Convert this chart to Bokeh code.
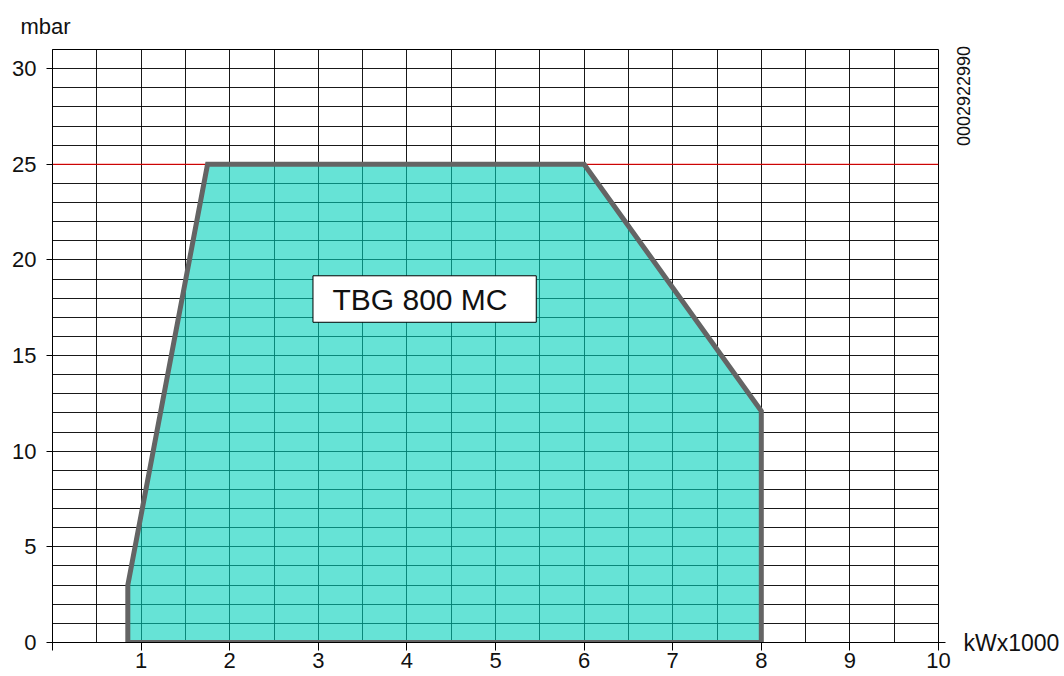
from bokeh.plotting import figure
from bokeh.models import Range1d, FixedTicker, Span, LinearAxis
from bokeh.core.properties import value
from bokeh.embed import file_html
from bokeh.resources import INLINE
import numpy as np

# Data
area_x = [0.85, 0.85, 1.75, 6.0, 8.0, 8.0]
area_y = [0.0, 3.0, 25.0, 25.0, 12.1, 0.0]
limit_pressure = 25
x_ticks = list(range(0, 11))
x_tick_labels = {0: ""}
y_ticks = [0, 5, 10, 15, 20, 25, 30]
model_name = "TBG 800 MC"
drawing_code = "0002922990"
x_unit = "kWx1000"
y_unit = "mbar"

FONT = "Liberation Sans"
TXT = "#111111"

p = figure(width=1064, height=676, x_range=Range1d(0, 10), y_range=Range1d(0, 31),
           output_backend="svg", toolbar_location=None,
           min_border_left=52, min_border_right=126, min_border_top=49, min_border_bottom=34)

p.outline_line_color = "black"
p.outline_line_width = 1

# y unit as title
p.title.text = y_unit
p.title.align = "left"
p.title.offset = -32
p.title.standoff = 22
p.title.text_font = FONT
p.title.text_font_size = "22px"
p.title.text_font_style = "normal"
p.title.text_color = TXT

# grid
p.xgrid.ticker = FixedTicker(ticks=list(np.arange(0, 10.01, 0.5)))
p.ygrid.ticker = FixedTicker(ticks=list(range(0, 32)))
for g in (p.xgrid, p.ygrid):
    g.grid_line_color = "black"
    g.grid_line_width = 1
    g.grid_line_alpha = 0.9

# axes
p.xaxis.ticker = FixedTicker(ticks=x_ticks)
p.xaxis.major_label_overrides = x_tick_labels
p.yaxis.ticker = FixedTicker(ticks=y_ticks)
for ax in (p.xaxis, p.yaxis):
    ax.axis_line_color = "black"
    ax.major_tick_line_color = "black"
    ax.major_tick_in = 0
    ax.minor_tick_line_color = None
    ax.major_label_text_font = FONT
    ax.major_label_text_font_size = "22px"
    ax.major_label_text_color = TXT
p.xaxis.major_tick_out = 8
p.xaxis.major_label_standoff = 2
p.yaxis.major_tick_out = 6
p.yaxis.major_label_standoff = 10

# right side: small extension of the x axis line
ext = LinearAxis(ticker=FixedTicker(ticks=[0]), major_label_overrides={0: ""},
                 axis_line_color=None, major_tick_in=0, major_tick_out=7,
                 major_tick_line_color="black", minor_tick_line_color=None,
                 major_label_text_font_size="1px", major_label_standoff=0)
p.add_layout(ext, "right")

# right side: drawing code, rotated
code_pos = 25.95
code_axis = LinearAxis(ticker=FixedTicker(ticks=[code_pos]), major_label_overrides={code_pos: drawing_code},
                       axis_line_color=None, major_tick_line_color=None, minor_tick_line_color=None,
                       major_tick_in=0, major_tick_out=0, major_label_standoff=18,
                       major_label_orientation=np.pi / 2,
                       major_label_text_font=FONT, major_label_text_font_size="18px",
                       major_label_text_color=TXT)
p.add_layout(code_axis, "right")

# right side: x unit at the level of the x axis
unit_axis = LinearAxis(ticker=FixedTicker(ticks=[0]), major_label_overrides={0: x_unit},
                       axis_line_color=None, major_tick_line_color=None, minor_tick_line_color=None,
                       major_tick_in=0, major_tick_out=0, major_label_standoff=-16,
                       major_label_text_font=FONT, major_label_text_font_size="23px",
                       major_label_text_color=TXT)
p.add_layout(unit_axis, "right")

# red limit line
p.add_layout(Span(location=limit_pressure, dimension="width", line_color="red",
                  line_width=1, level="underlay"))

# working area
p.patch(area_x, area_y, fill_color="#00d0bb", fill_alpha=0.6,
        line_color="#646464", line_width=5, line_join="miter")

# model name box
p.quad(left=[2.94], right=[5.46], bottom=[16.74], top=[19.17],
       fill_color="white", line_color="black", line_width=1)
p.text(x=[3.16], y=[17.95], text=[model_name], text_font=value(FONT),
       text_font_size="30px", text_baseline="middle", text_align="left", text_color=TXT)

open("out.html", "w").write(file_html(p, INLINE))
